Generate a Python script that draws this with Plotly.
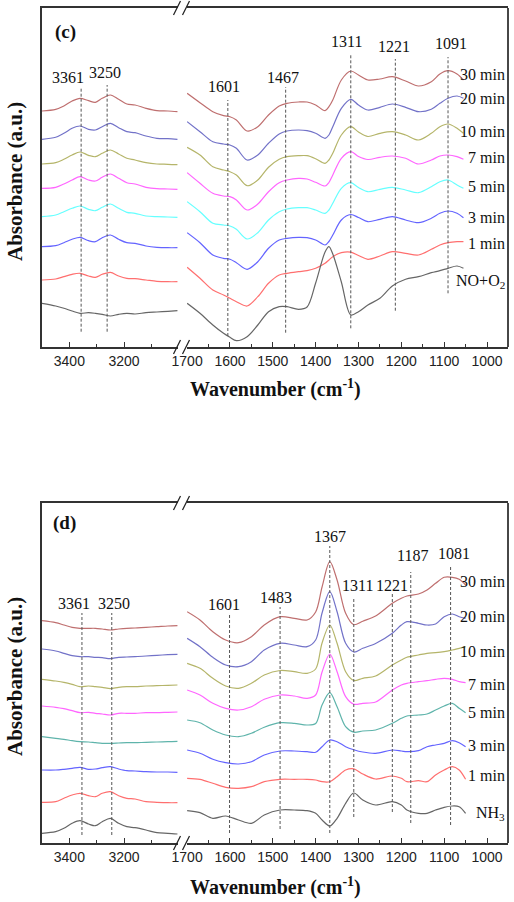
import plotly.graph_objects as go

# ---------------- data ----------------
LABELS_C = ["30 min", "20 min", "10 min", "7 min", "5 min", "3 min", "1 min", "NO+O<sub>2</sub>"]
LABELS_D = ["30 min", "20 min", "10 min", "7 min", "5 min", "3 min", "1 min", "NH<sub>3</sub>"]

W_LEFT = [3500, 3450, 3420, 3390, 3361, 3330, 3305, 3280, 3250, 3220, 3190, 3160, 3120, 3080, 3040, 3005]
W_C_RIGHT = [1700, 1670, 1640, 1615, 1600, 1585, 1560, 1535, 1510, 1485, 1467, 1440, 1420, 1400, 1378,
             1369, 1360, 1340, 1318, 1300, 1278, 1250, 1221, 1190, 1160, 1130, 1110, 1091, 1070, 1055]
W_D_RIGHT = [1700, 1670, 1640, 1610, 1580, 1550, 1520, 1483, 1450, 1420, 1400, 1385, 1367, 1350, 1330,
             1311, 1290, 1260, 1221, 1200, 1187, 1160, 1140, 1120, 1100, 1081, 1065, 1050]

# panel (c) – high wavenumber region (offset spectra, a.u.)
C_LEFT_30 = [236, 237.7, 241, 246, 248.7, 246.3, 244.7, 248.7, 252, 247.7, 243, 242, 238.7, 236.3, 236, 235.3]
C_LEFT_20 = [207.7, 209.7, 213.7, 218.7, 221, 217.7, 217, 220.3, 223.7, 219.3, 215.3, 214.3, 211, 208.7, 208.3, 207.7]
C_LEFT_10 = [183, 184.3, 187.7, 192, 195, 191.7, 190.3, 193.7, 197, 193, 188.7, 187, 184.3, 183, 182.7, 182.3]
C_LEFT_7 = [158.7, 159.7, 163, 167, 170.3, 167, 166, 169.7, 173, 168.7, 164.3, 163, 159.7, 158.3, 158, 157.7]
C_LEFT_5 = [130.3, 132, 135.3, 138.7, 141, 137.7, 136.3, 139.7, 143, 138.7, 134.7, 133.7, 131, 130.3, 130, 129.7]
C_LEFT_3 = [100.3, 101.3, 104.3, 107.7, 109.7, 106.3, 105.3, 109.3, 112, 107.7, 104.3, 103.7, 101, 99.7, 99.3, 99.3]
C_LEFT_1 = [67, 68, 70.3, 72.7, 73.7, 71, 69.7, 72.7, 74.7, 71, 68.7, 68.3, 67, 65.7, 65.3, 65.3]
C_LEFT_0 = [43.7, 41, 38.7, 36, 33.7, 34.3, 33.7, 32.7, 31, 32.7, 33.7, 33, 34.3, 35, 35.7, 36.3]

# panel (c) – low wavenumber region
C_RIGHT_30 = [253.7, 244.3, 235.3, 231.3, 230.3, 227, 216, 220.3, 232, 241, 243.7, 245, 245, 242, 236.3,
              240.3, 247, 267, 276, 272, 267, 268, 270.3, 266, 261, 265.3, 273, 276.3, 273, 267]
C_RIGHT_20 = [225.3, 215.3, 205.3, 203, 202, 198.7, 187, 192, 203.7, 213, 216, 217, 216.3, 213.7, 208.7,
              212, 220.3, 238.7, 247.7, 242, 237, 239.7, 243, 239.7, 235.3, 237.7, 243.7, 248.7, 251, 248.7]
C_RIGHT_10 = [199.7, 192, 180.3, 177, 175.3, 172, 161.3, 167, 179.7, 187.7, 190.3, 191.3, 191.3, 188.3, 183.7,
              187, 193.7, 212, 220.3, 215, 210.5, 213.7, 215.3, 212, 207, 213.7, 220.3, 223, 218.7, 213.7]
C_RIGHT_7 = [174.3, 163.7, 153.7, 151, 150.3, 147, 137, 143, 155.3, 164.3, 167, 168.7, 168, 164.7, 161,
             164.5, 172, 188.7, 195.3, 190.5, 187.5, 189.7, 191, 188.7, 183, 187, 191, 192, 190.3, 187.7]
C_RIGHT_5 = [145.3, 135.3, 123.7, 122, 121, 117.7, 108, 114.3, 127, 135.3, 138, 139.3, 139.3, 137, 133.7,
             137, 143.7, 158.7, 164.3, 159.5, 155.3, 157.7, 159.7, 157, 154.3, 160.3, 165.3, 167, 162, 158.7]
C_RIGHT_3 = [114.3, 104.3, 92, 88.7, 87.7, 84.3, 77.7, 85.3, 98.7, 107, 108.7, 109.7, 109.3, 107, 102,
             105.5, 112, 127, 132.5, 129.5, 125.3, 127.7, 130.3, 127, 124.3, 128.7, 133.7, 136, 133.7, 129.3]
C_RIGHT_1 = [79.7, 68.7, 57, 52, 48.7, 45.3, 41, 50.3, 63.7, 72, 73.7, 75.3, 76.3, 78.7, 83.7,
             87, 90.3, 94.3, 94.8, 91.5, 87.7, 91, 95.3, 93.7, 92, 97.7, 102, 104.3, 105.3, 105.3]
C_RIGHT_0 = [43.7, 33.7, 22, 13.7, 9.7, 6.3, 10.3, 22, 35.3, 40.3, 40.3, 37.7, 40, 64, 95,
             100.3, 93, 65, 32, 35.3, 42, 48.7, 61, 67.7, 70.3, 74.3, 76.3, 78.7, 81, 78.7]

# panel (d) – high wavenumber region
D_LEFT_30 = [222.3, 220.3, 218, 215.7, 214.7, 214.7, 214.7, 214, 213, 214, 214.7, 215, 215.7, 216.3, 217, 217.3]
D_LEFT_20 = [194, 192, 189.7, 187.3, 186.3, 186.3, 185.7, 185.3, 184.3, 185.7, 186, 186.3, 187, 187.7, 188.3, 188.7]
D_LEFT_10 = [163.7, 162, 160.7, 158.7, 156.3, 157, 156.3, 155.7, 154.3, 155.7, 156.3, 156.3, 157, 157.3, 157.7, 158]
D_LEFT_7 = [137, 135.7, 134.3, 132.3, 130.3, 130.7, 129.7, 129, 128, 129.7, 129.7, 129.7, 130.3, 130.3, 130.7, 131]
D_LEFT_5 = [106.3, 104.7, 103.7, 102.3, 101.3, 101, 100.3, 99.7, 99.7, 100, 100.3, 100.3, 100.7, 101, 101.3, 101.7]
D_LEFT_3 = [73, 73, 73.7, 74.7, 75.7, 73.7, 74, 75.3, 76.3, 74, 72.3, 72, 71.3, 71, 71, 70.7]
D_LEFT_1 = [40.7, 41.3, 44.7, 48, 49.7, 47.3, 46.3, 49.7, 51.3, 47.3, 44.7, 44, 41.3, 40.7, 40.3, 40.3]
D_LEFT_0 = [9.7, 11.3, 14.7, 19.7, 22.3, 19, 17.3, 21.3, 24.7, 19.7, 16.3, 15.3, 13, 10.3, 9.7, 9]

# panel (d) – low wavenumber region
D_RIGHT_30 = [231.3, 223, 211.3, 203, 200.3, 206.3, 218, 226.3, 224.7, 223, 231, 256, 281.3, 263,
              229.7, 218.3, 221.8, 227, 239.7, 244.7, 247, 249, 253, 259.7, 265.7, 265.7, 263.7, 258]
D_RIGHT_20 = [204.7, 196.3, 185.7, 178, 176.3, 181.3, 193, 199.7, 198, 196.3, 203, 230, 251.3, 231.3,
              199.7, 191, 194.7, 199.5, 209.7, 218, 221.3, 219.7, 218, 219, 226.3, 229, 226.3, 224.7]
D_RIGHT_10 = [179.7, 174.7, 164.7, 157, 154.7, 159.7, 168, 172.5, 171.3, 169.7, 174, 200, 218, 199.7,
              171.3, 162.5, 164.7, 167, 178, 183, 185.7, 188, 189.7, 190.3, 191.3, 193, 194.7, 196.3]
D_RIGHT_7 = [153, 148, 139.7, 134.7, 133, 136.3, 143.7, 148, 147, 144.7, 148, 171, 189, 171.3,
             146.3, 138.8, 139.7, 141, 153, 158, 159.7, 161.3, 162.3, 163.7, 164.7, 163.7, 161.3, 160.3]
D_RIGHT_5 = [123, 120.3, 113, 108, 106.3, 109.7, 115.7, 120.3, 119.7, 118, 119.5, 138, 150.3, 136.3,
             116.3, 110.8, 112, 113, 119.7, 124.7, 127, 128, 129, 133, 137, 139.7, 134.7, 130.3]
D_RIGHT_3 = [93, 89.7, 83.7, 80.3, 79, 81.3, 88, 92, 92, 91.3, 90.7, 96.3, 103, 101.3,
             96.3, 93.3, 91, 89.7, 93, 92, 91.3, 92.3, 96.3, 98, 99.7, 102.3, 100.3, 96.3]
D_RIGHT_1 = [64.7, 63.7, 59.7, 55.7, 54.7, 56.3, 61.3, 63.7, 63.7, 63.7, 63, 61.3, 61.3, 66.3,
             73, 74.2, 69, 64, 67, 64.7, 61.3, 62.3, 61.3, 68, 73, 76.3, 73, 63.7]
D_RIGHT_0 = [32.3, 30.3, 24.7, 27, 23, 19.7, 28, 33, 33, 32.3, 29.7, 23, 17, 24.7,
             39.7, 50, 43, 38, 41.3, 38, 33, 29.7, 29.7, 33, 35.7, 37, 36.3, 29.7]

# marked band positions (as drawn) and their labels
C_PEAK_POS = [3357, 3262, 1605, 1470, 1318, 1214, 1091]
C_PEAK_TXT = ["3361", "3250", "1601", "1467", "1311", "1221", "1091"]
D_PEAK_POS = [3354, 3245, 1601, 1483, 1367, 1311, 1221, 1178, 1085]
D_PEAK_TXT = ["3361", "3250", "1601", "1483", "1367", "1311", "1221", "1187", "1081"]

COLORS_C = ["#bf6f6f", "#7272c8", "#b5b56a", "#ff66ff", "#66ffff", "#6464ff", "#ff6f6f", "#666666"]
COLORS_D = ["#bf6f6f", "#7272c8", "#b5b56a", "#ff66ff", "#5fb4ab", "#6464ff", "#ff6f6f", "#666666"]

C_LEFT = [C_LEFT_30, C_LEFT_20, C_LEFT_10, C_LEFT_7, C_LEFT_5, C_LEFT_3, C_LEFT_1, C_LEFT_0]
C_RIGHT = [C_RIGHT_30, C_RIGHT_20, C_RIGHT_10, C_RIGHT_7, C_RIGHT_5, C_RIGHT_3, C_RIGHT_1, C_RIGHT_0]
D_LEFT = [D_LEFT_30, D_LEFT_20, D_LEFT_10, D_LEFT_7, D_LEFT_5, D_LEFT_3, D_LEFT_1, D_LEFT_0]
D_RIGHT = [D_RIGHT_30, D_RIGHT_20, D_RIGHT_10, D_RIGHT_7, D_RIGHT_5, D_RIGHT_3, D_RIGHT_1, D_RIGHT_0]

# ---------------- layout helpers ----------------
W, H = 514, 902
def px(x):
    return x / W
def py(y):
    return 1 - y / H

SERIF = "Liberation Serif"
SANS = "Liberation Sans"

fig = go.Figure()

def add_curves(wl, left, wr, right, colors, xl, xr, ya):
    for vals, col in zip(left, colors):
        fig.add_trace(go.Scatter(x=wl, y=vals, mode="lines", xaxis=xl, yaxis=ya,
                                 line=dict(color=col, width=1.2, shape="spline", smoothing=0.9),
                                 hoverinfo="skip", showlegend=False))
    for vals, col in zip(right, colors):
        fig.add_trace(go.Scatter(x=wr, y=vals, mode="lines", xaxis=xr, yaxis=ya,
                                 line=dict(color=col, width=1.2, shape="spline", smoothing=0.9),
                                 hoverinfo="skip", showlegend=False))

add_curves(W_LEFT, C_LEFT, W_C_RIGHT, C_RIGHT, COLORS_C, "x", "x2", "y")
add_curves(W_LEFT, D_LEFT, W_D_RIGHT, D_RIGHT, COLORS_D, "x3", "x4", "y2")

# axes
dom_l = [42 / W, 178 / W]
dom_r = [187 / W, 508 / W]
dom_c = [py(347), py(8)]
dom_d = [py(843), py(503)]

def xax(domain, rng, anchor, dtick, minor):
    return dict(domain=domain, range=rng, anchor=anchor, showline=True, mirror=True,
                linecolor="#333", linewidth=1.8, ticks="inside", ticklen=5, tickwidth=1.3,
                tickcolor="#333", dtick=dtick, tick0=0, showgrid=False, zeroline=False,
                automargin=False,
                tickfont=dict(family=SANS, size=14, color="#222"),
                minor=dict(dtick=minor, ticks="inside", ticklen=3, tickwidth=1.2, tickcolor="#333",
                           showgrid=False))

def yax(domain, rng, anchor):
    return dict(domain=domain, range=rng, anchor=anchor, showline=True, linecolor="#333",
                linewidth=1.8, showticklabels=False, ticks="", showgrid=False, zeroline=False,
                automargin=False)

fig.update_layout(
    width=W, height=H, margin=dict(l=0, r=0, t=0, b=0, pad=0), autosize=False,
    paper_bgcolor="white", plot_bgcolor="white",
    xaxis=xax(dom_l, [3500, 3003], "y", 200, 100),
    xaxis2=xax(dom_r, [1700.3, 951], "y", 100, 50),
    xaxis3=xax(dom_l, [3500, 3003], "y2", 200, 100),
    xaxis4=xax(dom_r, [1700.3, 951], "y2", 100, 50),
    yaxis=yax(dom_c, [0, 339], "x"),
    yaxis2=yax(dom_d, [0, 340], "x3"),
)

shapes = []
# right frame lines and axis-break marks
for top, bot in [(8, 347), (503, 843)]:
    shapes.append(dict(type="line", xref="paper", yref="paper", x0=px(508), x1=px(508),
                       y0=py(bot), y1=py(top), line=dict(color="#333", width=1.8)))
    for yy in (top, bot):
        for x0 in (173.5, 182.5):
            shapes.append(dict(type="line", xref="paper", yref="paper", x0=px(x0), x1=px(x0 + 7),
                               y0=py(yy + 7), y1=py(yy - 7), line=dict(color="#222", width=1.3)))

# dashed band markers (data coordinates)
C_DASH = [(87, 331.7), (85, 331.7), (100, 336), (87, 332.7), (55, 328.3), (59, 310.7), (57, 293.3)]
D_DASH = [(613, 835), (613, 835), (614, 833), (607, 829), (546, 833), (598, 817), (593, 812), (572, 823), (565, 825)]
for pos, (t, b) in zip(C_PEAK_POS, C_DASH):
    xr = "x" if pos > 2000 else "x2"
    shapes.append(dict(type="line", xref=xr, yref="y", x0=pos, x1=pos, y0=347 - b, y1=347 - t,
                       line=dict(color="#555", width=1, dash="3px,2px")))
for pos, (t, b) in zip(D_PEAK_POS, D_DASH):
    xr = "x3" if pos > 2000 else "x4"
    shapes.append(dict(type="line", xref=xr, yref="y2", x0=pos, x1=pos, y0=843 - b, y1=843 - t,
                       line=dict(color="#555", width=1, dash="3px,2px")))
fig.update_layout(shapes=shapes)

ann = []
def text(x, y, s, size=16, bold=False, xanchor="center", angle=0, family=SERIF):
    ann.append(dict(xref="paper", yref="paper", x=px(x), y=py(y), text=("<b>%s</b>" % s) if bold else s,
                    showarrow=False, xanchor=xanchor, yanchor="middle", textangle=angle,
                    font=dict(family=family, size=size, color="#111")))

# band labels
C_LAB_XY = [(67.5, 77.5), (105, 72.5), (224, 87), (282.5, 78), (346, 41.7), (394, 46.7), (451, 43.3)]
D_LAB_XY = [(74, 603), (114, 603), (224, 604), (275.5, 597.5), (330, 536), (357.5, 585), (392, 585),
            (412.5, 555), (454, 553)]
for s, (x, y) in zip(C_PEAK_TXT, C_LAB_XY):
    text(x, y, s)
for s, (x, y) in zip(D_PEAK_TXT, D_LAB_XY):
    text(x, y, s)

# time labels
C_TIME_Y = [75, 99, 131, 157.5, 186.5, 217.5, 243, 281]
D_TIME_Y = [581, 616, 651, 684.5, 712.5, 745, 775.5, 813]
for s, y in zip(LABELS_C, C_TIME_Y):
    text(507, y, s, xanchor="right")
for s, y in zip(LABELS_D, D_TIME_Y):
    text(507, y, s, xanchor="right")

# panel letters and axis titles
text(65, 32, "(c)", size=19, bold=True)
text(64.5, 522.5, "(d)", size=19, bold=True)
for yc in (182, 677):
    text(15, yc, "Absorbance (a.u.)", size=21, bold=True, angle=-90)
text(275, 388, "Wavenumber (cm<sup>-1</sup>)", size=20, bold=True)
text(275, 886, "Wavenumber (cm<sup>-1</sup>)", size=20, bold=True)

fig.update_layout(annotations=ann)
fig.write_html("out.html", config={"responsive": False, "displayModeBar": False},
               post_script="document.body.style.margin='0';document.body.style.overflow='hidden';"
                           "document.documentElement.style.overflow='hidden';")
